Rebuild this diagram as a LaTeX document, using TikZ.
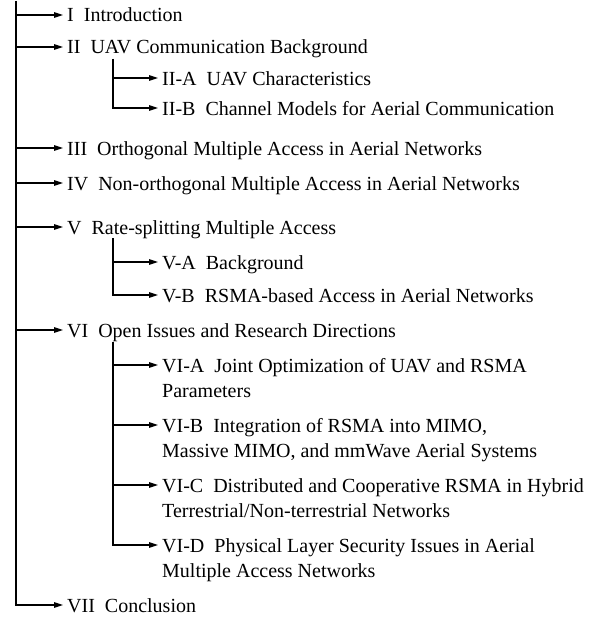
\documentclass[tikz,border=0pt]{standalone}
\usepackage{fontspec}
\setmainfont{Liberation Serif}
\usetikzlibrary{arrows.meta}

\begin{document}
\begin{tikzpicture}[x=1pt, y=-1pt]
	\tikzstyle{sect}=[anchor=west, inner xsep=4pt, inner ysep=0pt,
	text height=14pt, text depth=0pt, align=left,
	font=\fontsize{20}{25}\selectfont]
	\tikzstyle{link}=[line width=1.3pt, -{Triangle[length=9pt, width=5.5pt]}]
	
	\useasboundingbox (0,0) rectangle (611,618);
	
	\coordinate (top) at (16,1);
	\coordinate (sub2) at (113,59);
	\coordinate (sub5) at (113,238);
	\coordinate (sub6) at (113,342);
	
	\node[sect] at (63,15) (s1) {I~~Introduction};
	\node[sect] at (63,47) (s2) {II~~UAV Communication Background};
	\node[sect] at (158,78) (s2a) {II-A~~UAV Characteristics};
	\node[sect] at (158,108) (s2b) {II-B~~Channel Models for Aerial Communication};
	\node[sect] at (63,148) (s3) {III~~Orthogonal Multiple Access in Aerial Networks};
	\node[sect] at (63,183) (s4) {IV~~Non-orthogonal Multiple Access in Aerial Networks};
	\node[sect] at (63,227) (s5) {V~~Rate-splitting Multiple Access};
	\node[sect] at (158,262) (s5a) {V-A~~Background};
	\node[sect] at (158,295) (s5b) {V-B~~RSMA-based Access in Aerial Networks};
	\node[sect] at (63,330) (s6) {VI~~Open Issues and Research Directions};
	% two-line entries: the node sits on its last line
	\node[sect] at (158,390) (s6a) {VI-A~~Joint Optimization of UAV and RSMA\\Parameters};
	\node[sect] at (158,450) (s6b) {VI-B~~Integration of RSMA into MIMO,\\Massive MIMO, and mmWave Aerial Systems};
	\node[sect] at (158,510) (s6c) {VI-C~~Distributed and Cooperative RSMA in Hybrid\\Terrestrial/Non-terrestrial Networks};
	\node[sect] at (158,570) (s6d) {VI-D~~Physical Layer Security Issues in Aerial\\Multiple Access Networks};
	\node[sect] at (63,605) (s7) {VII~~Conclusion};
	
	% main sections
	\draw[link] (top) |- (s7);
	\draw[link] (top |- s1) -- (s1);
	\draw[link] (top |- s2) -- (s2);
	\draw[link] (top |- s3) -- (s3);
	\draw[link] (top |- s4) -- (s4);
	\draw[link] (top |- s5) -- (s5);
	\draw[link] (top |- s6) -- (s6);
	
	% subsections
	\draw[link] (sub2) |- (s2a);
	\draw[link] (sub2) |- (s2b);
	\draw[link] (sub5) |- (s5a);
	\draw[link] (sub5) |- (s5b);
	\draw[link] (sub6) |- ([yshift=25pt]s6a.west);
	\draw[link] (sub6) |- ([yshift=25pt]s6b.west);
	\draw[link] (sub6) |- ([yshift=25pt]s6c.west);
	\draw[link] (sub6) |- ([yshift=25pt]s6d.west);
	
\end{tikzpicture}
\end{document}
